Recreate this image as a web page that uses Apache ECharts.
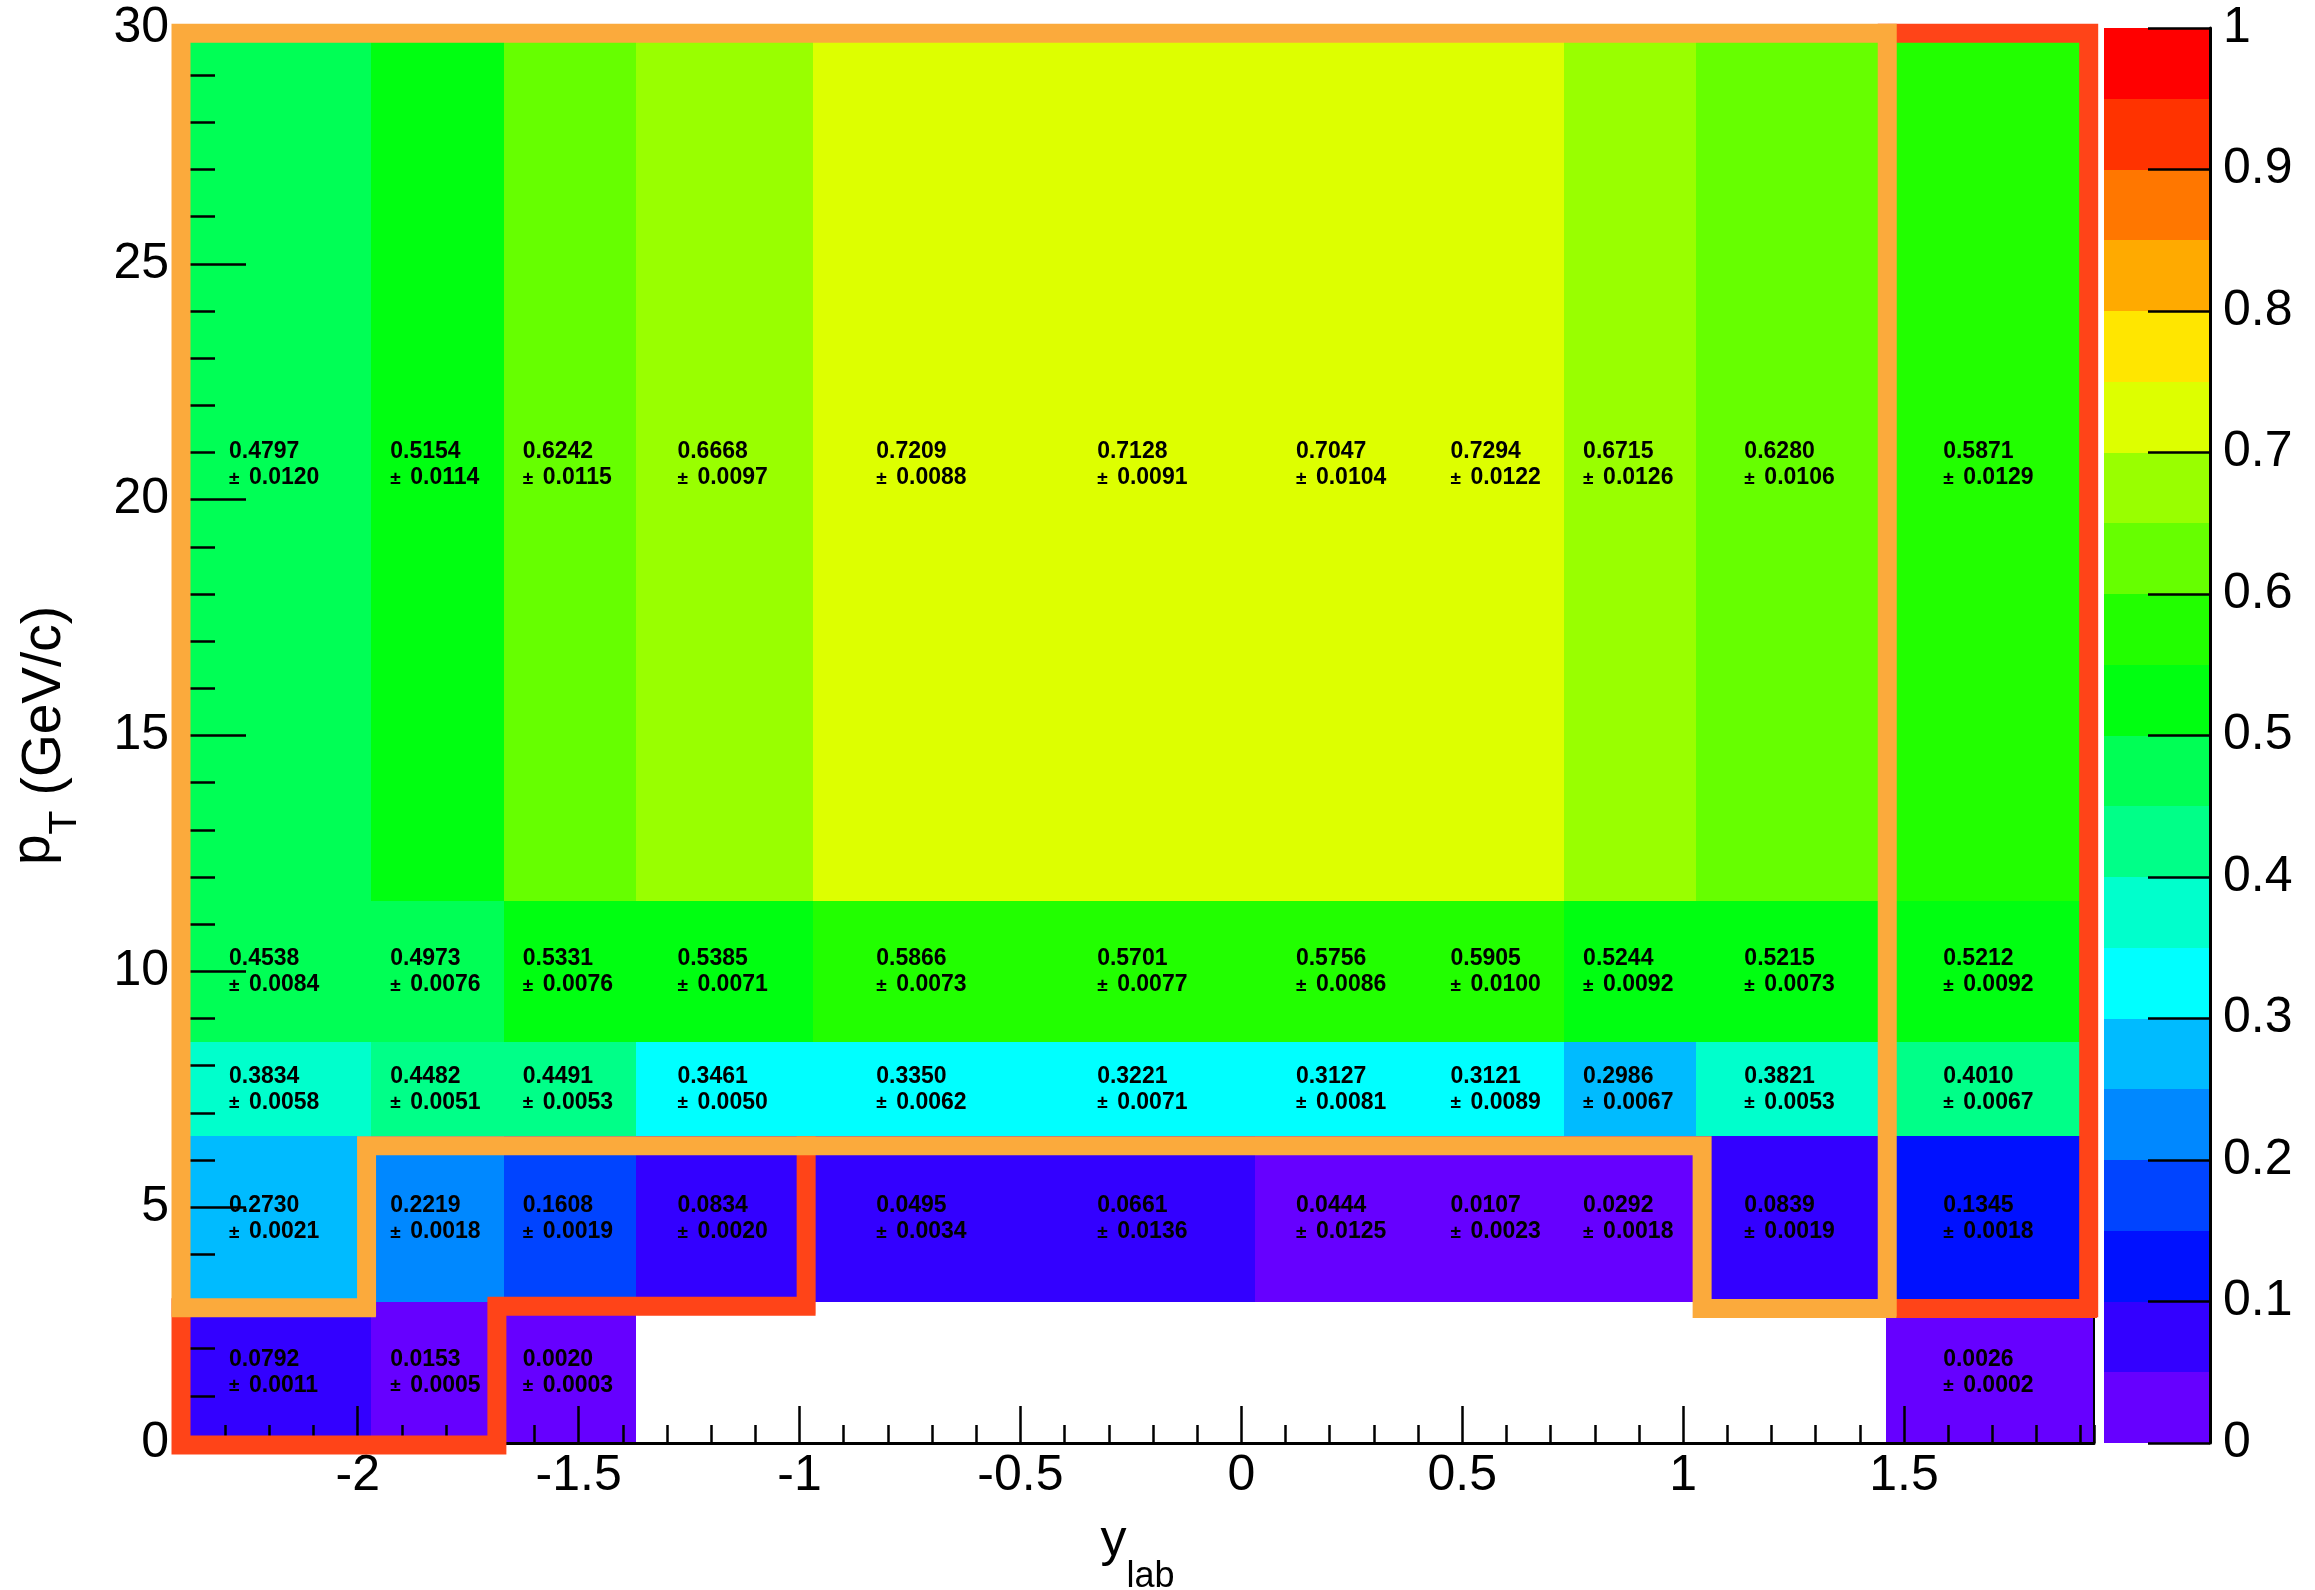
<!DOCTYPE html>
<html><head><meta charset="utf-8">
<script src="https://cdn.jsdelivr.net/npm/echarts@6/dist/echarts.min.js"></script>
<style>html,body{margin:0;padding:0;background:#fff}#c{width:2315px;height:1590px}</style>
</head><body><div id="c"></div>
<script>
// ---- data ----
const xEdges = [-2.4, -1.97, -1.67, -1.37, -0.97, -0.47, 0.03, 0.43, 0.73, 1.03, 1.46, 1.93];
const ptEdges = [0, 3, 6.5, 8.5, 11.5, 30];
// values per pT row (bottom to top), one entry per y_lab bin
const row0Val = [0.0792, 0.0153, 0.0020, null, null, null, null, null, null, null, 0.0026];
const row0Err = [0.0011, 0.0005, 0.0003, null, null, null, null, null, null, null, 0.0002];
const row1Val = [0.2730, 0.2219, 0.1608, 0.0834, 0.0495, 0.0661, 0.0444, 0.0107, 0.0292, 0.0839, 0.1345];
const row1Err = [0.0021, 0.0018, 0.0019, 0.0020, 0.0034, 0.0136, 0.0125, 0.0023, 0.0018, 0.0019, 0.0018];
const row2Val = [0.3834, 0.4482, 0.4491, 0.3461, 0.3350, 0.3221, 0.3127, 0.3121, 0.2986, 0.3821, 0.4010];
const row2Err = [0.0058, 0.0051, 0.0053, 0.0050, 0.0062, 0.0071, 0.0081, 0.0089, 0.0067, 0.0053, 0.0067];
const row3Val = [0.4538, 0.4973, 0.5331, 0.5385, 0.5866, 0.5701, 0.5756, 0.5905, 0.5244, 0.5215, 0.5212];
const row3Err = [0.0084, 0.0076, 0.0076, 0.0071, 0.0073, 0.0077, 0.0086, 0.0100, 0.0092, 0.0073, 0.0092];
const row4Val = [0.4797, 0.5154, 0.6242, 0.6668, 0.7209, 0.7128, 0.7047, 0.7294, 0.6715, 0.6280, 0.5871];
const row4Err = [0.0120, 0.0114, 0.0115, 0.0097, 0.0088, 0.0091, 0.0104, 0.0122, 0.0126, 0.0106, 0.0129];
const xMajorTicks = [-2, -1.5, -1, -0.5, 0, 0.5, 1, 1.5];
const zTicks = [0, 0.1, 0.2, 0.3, 0.4, 0.5, 0.6, 0.7, 0.8, 0.9, 1];
// outline regions (y_lab, pT)
const orangeOutline = [[-2.4, 29.89], [1.462, 29.89], [1.462, 2.85], [1.043, 2.85], [1.043, 6.3], [-1.98, 6.3], [-1.98, 2.87], [-2.4, 2.87], [-2.4, 29.89]];
const redOutlineLow = [[-2.4, 2.87], [-2.4, -0.04], [-1.685, -0.04], [-1.685, 2.9], [-0.985, 2.9], [-0.985, 6.3]];
const redOutlineRight = [[1.462, 29.89], [1.918, 29.89], [1.918, 2.85], [1.462, 2.85]];

// ---- style ----
const palette = ['#6600ff','#3300ff','#0011ff','#0044ff','#0088ff','#00bbff','#00ffff','#00ffcc','#00ff88','#00ff55',
                 '#00ff11','#22ff00','#66ff00','#99ff00','#ddff00','#ffe600','#ffaa00','#ff7700','#ff3300','#ff0000'];
const FF = '"Liberation Sans", Arial, Helvetica, sans-serif';
const nLev = palette.length;
function colorFor(v){ return palette[Math.min(nLev-1, Math.max(0, Math.floor(0.01 + v*nLev)))]; }

const rowsVal = [row0Val,row1Val,row2Val,row3Val,row4Val];
const rowsErr = [row0Err,row1Err,row2Err,row3Err,row4Err];
const cells = [];
for (let r=0;r<rowsVal.length;r++) for (let c=0;c<xEdges.length-1;c++){
  const v = rowsVal[r][c]; if (v==null) continue;
  cells.push([xEdges[c], xEdges[c+1], ptEdges[r], ptEdges[r+1], v, rowsErr[r][c]]);
}
const bar = palette.map((col,i)=>[i/nLev, (i+1)/nLev, i]);

const chart = echarts.init(document.getElementById('c'), null, {renderer:'canvas'});
const black = '#000';
const rough = [3,1,2,2,1,1,4,1,2,1,1,2];
function outline(data, color, z){
  return [
    {type:'line', xAxisIndex:0, yAxisIndex:0, z:z, silent:true, clip:false, symbol:'none', data:data,
     lineStyle:{color:color, width:13, cap:'square', join:'miter'}},
    {type:'line', xAxisIndex:0, yAxisIndex:0, z:z, silent:true, clip:false, symbol:'none', data:data,
     lineStyle:{color:color, width:19, cap:'square', join:'miter', type:rough}}
  ];
}
chart.setOption({
  animation:false,
  backgroundColor:'#fff',
  grid:[
    {left:181, right:221, top:28, bottom:147, outerBoundsMode:'none', containLabel:false},
    {left:2104, width:106, top:28, bottom:147, outerBoundsMode:'none', containLabel:false}
  ],
  xAxis:[
    {gridIndex:0, type:'value', min:-2.4, max:1.93, position:'bottom', z:5,
     axisLine:{show:true,onZero:false,lineStyle:{color:black,width:3}},
     axisTick:{show:true,inside:true,length:37,customValues:xMajorTicks,lineStyle:{color:black,width:2.5}},
     axisLabel:{show:true,customValues:xMajorTicks,fontSize:50,color:black,fontFamily:FF,margin:8},
     splitLine:{show:false},
     name:'{m|y}{s|lab}', nameLocation:'middle', nameGap:72,
     nameTextStyle:{rich:{
       m:{fontSize:52,fontFamily:FF,color:black,verticalAlign:'bottom',padding:[0,0,28,0]},
       s:{fontSize:36,fontFamily:FF,color:black,verticalAlign:'bottom'}}}},
    {gridIndex:0, type:'value', min:-2.4, max:1.93, interval:0.1, position:'bottom', z:5,
     axisLine:{show:false,onZero:false}, axisLabel:{show:false}, splitLine:{show:false},
     axisTick:{show:true,inside:true,length:18,lineStyle:{color:black,width:2.5}}},
    {gridIndex:0, type:'value', min:-2.4, max:1.93, position:'top', z:5,
     axisLine:{show:true,onZero:false,lineStyle:{color:black,width:2}}, axisTick:{show:false}, axisLabel:{show:false}, splitLine:{show:false}},
    {gridIndex:1, type:'value', min:0, max:1, show:false, axisLine:{onZero:false}}
  ],
  yAxis:[
    {gridIndex:0, type:'value', min:0, max:30, interval:5, position:'left', z:5,
     axisLine:{show:true,onZero:false,lineStyle:{color:black,width:3}},
     axisTick:{show:true,inside:true,length:65,lineStyle:{color:black,width:2.5}},
     axisLabel:{show:true,fontSize:50,color:black,fontFamily:FF,margin:12},
     splitLine:{show:false},
     name:'{p|p}{t|T}{r| (GeV/c)}', nameLocation:'middle', nameRotate:90, nameGap:96,
     nameTextStyle:{rich:{
       p:{fontSize:55,fontFamily:FF,color:black,verticalAlign:'bottom',padding:[0,0,24,0]},
       t:{fontSize:39,fontFamily:FF,color:black,verticalAlign:'bottom'},
       r:{fontSize:55,fontFamily:FF,color:black,verticalAlign:'bottom',padding:[0,0,13,0]}}}},
    {gridIndex:0, type:'value', min:0, max:30, interval:1, position:'left', z:5,
     axisLine:{show:false,onZero:false}, axisLabel:{show:false}, splitLine:{show:false},
     axisTick:{show:true,inside:true,length:34,lineStyle:{color:black,width:2.5}}},
    {gridIndex:0, type:'value', min:0, max:30, position:'right', z:5,
     axisLine:{show:true,onZero:false,lineStyle:{color:black,width:2}}, axisTick:{show:false}, axisLabel:{show:false}, splitLine:{show:false}},
    {gridIndex:1, type:'value', min:0, max:1, interval:0.1, position:'right', z:5,
     axisLine:{show:true,onZero:false,lineStyle:{color:black,width:3}},
     axisTick:{show:true,inside:true,length:62,lineStyle:{color:black,width:2.5}},
     axisLabel:{show:true,fontSize:50,color:black,fontFamily:FF,margin:13},
     splitLine:{show:false}}
  ],
  series:[
    {type:'custom', xAxisIndex:0, yAxisIndex:0, z:2, silent:true, clip:false,
     encode:{x:[0,1], y:[2,3]}, data:cells,
     renderItem:function(params, api){
       const p0 = api.coord([api.value(0), api.value(2)]);
       const p1 = api.coord([api.value(1), api.value(3)]);
       const x0 = Math.round(p0[0]), x1 = Math.round(p1[0]), yb = Math.round(p0[1]), yt = Math.round(p1[1]);
       return {type:'rect', shape:{x:x0, y:yt, width:x1-x0, height:yb-yt}, style:{fill:colorFor(api.value(4))}};
     }},
    {type:'custom', xAxisIndex:0, yAxisIndex:0, z:3, silent:true, clip:false,
     encode:{x:[0,1], y:[2,3]}, data:cells,
     renderItem:function(params, api){
       const c = api.coord([(api.value(0)+api.value(1))/2, (api.value(2)+api.value(3))/2]);
       const v = api.value(4), e = api.value(5);
       const lx = c[0]-47;
       return {type:'group', children:[
         {type:'text', x:lx, y:c[1]-13, style:{text:v.toFixed(4), fill:black, fontSize:23, fontWeight:'bold', fontFamily:FF, align:'left', verticalAlign:'middle'}},
         {type:'text', x:lx, y:c[1]+14, style:{text:'\u00b1', fill:black, fontSize:19, fontWeight:'bold', fontFamily:FF, align:'left', verticalAlign:'middle'}},
         {type:'text', x:lx+20, y:c[1]+13, style:{text:e.toFixed(4), fill:black, fontSize:23, fontWeight:'bold', fontFamily:FF, align:'left', verticalAlign:'middle'}}
       ]};
     }}
  ].concat(outline(redOutlineLow,'#ff4418',10), outline(redOutlineRight,'#ff4418',10), outline(orangeOutline,'#fbaa3c',11)).concat([
    {type:'custom', xAxisIndex:3, yAxisIndex:3, z:2, silent:true, clip:false,
     encode:{y:[0,1]}, data:bar,
     renderItem:function(params, api){
       const p0 = api.coord([0, api.value(0)]);
       const p1 = api.coord([1, api.value(1)]);
       const yb = Math.round(p0[1]), yt = Math.round(p1[1]);
       return {type:'rect', shape:{x:p0[0], y:yt, width:p1[0]-p0[0], height:yb-yt}, style:{fill:palette[api.value(2)]}};
     }}
  ])
});
</script></body></html>
